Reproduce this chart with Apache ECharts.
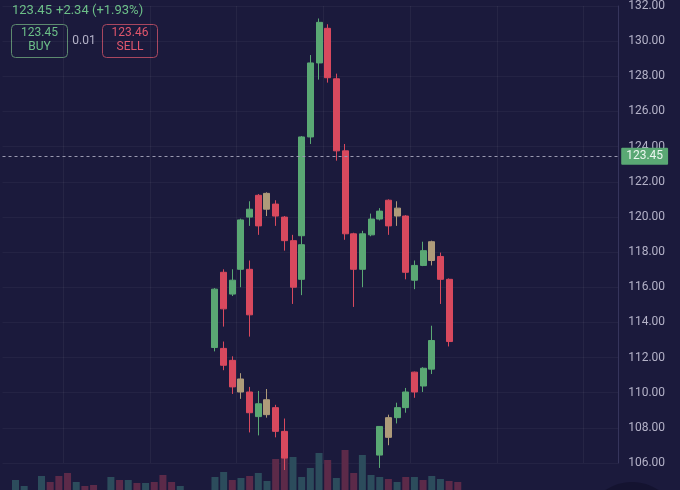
<!DOCTYPE html>
<html>
<head>
<meta charset="utf-8">
<script src="https://cdn.jsdelivr.net/npm/echarts@6/dist/echarts.min.js"></script>
<style>
html,body{margin:0;padding:0;background:#1b1a3c;}
#c{width:680px;height:490px;}
</style>
</head>
<body>
<div id="c"></div>
<script>
// ---- data ----
const categories = [1,2,3,4,5,6,7,8,9,10,11,12,13,14,15,16,17,18,19,20,21,22,23,24,25,26,27,28,29,30,
  31,32,33,34,35,36,37,38,39,40,41,42,43,44,45,46,47,48,49,50,51,52,53,54,55,56,57,58,59,60,
  61,62,63,64,65,66,67,68,69,70,71];

// [bar, open, close, low, high]
const upperCandles = [
  [25,112.57,115.89,112.35,115.95],[26,116.85,114.77,113.76,117.02],[27,115.61,116.40,115.50,117.02],
  [28,117.02,119.83,116.00,119.90],[29,119.99,120.44,119.49,120.89],[30,121.23,119.49,118.98,121.30],
  [32,120.73,120.05,119.49,120.95],[33,119.99,118.65,118.08,120.05],[34,118.65,116.00,115.05,118.98],
  [35,118.93,124.55,118.53,124.60],[36,124.55,128.76,124.15,129.21],[37,128.76,131.07,127.81,131.29],
  [38,130.73,127.92,127.64,130.96],[39,127.86,123.76,123.20,128.15],[40,123.76,119.04,118.70,124.15],
  [41,119.04,117.02,114.88,119.10],[42,117.02,119.04,116.00,119.21],[43,118.98,119.88,118.90,120.19],
  [44,119.88,120.33,119.80,120.50],[45,120.95,119.49,118.98,121.00],[47,120.05,116.85,116.45,120.10],
  [48,116.40,117.24,115.89,117.52],[49,117.24,118.08,117.20,118.59],[51,117.75,116.45,115.05,117.97],
  [52,116.45,112.91,112.63,116.50]
];
const upperMixed = [
  [31,120.44,121.34,120.05,121.40],[46,120.05,120.50,119.49,120.89],[50,118.59,117.52,117.24,118.65]
];
const overlapCandles = [
  [29,117.02,114.43,113.19,117.52],[35,116.45,118.42,115.55,118.81]
];
const lowerCandles = [
  [26,112.52,111.56,111.28,112.91],[27,111.84,110.33,109.93,112.07],[29,110.04,108.86,107.74,110.33],
  [30,108.64,109.37,107.57,110.10],[32,109.15,107.80,107.46,109.31],[33,107.80,106.28,105.60,108.53],
  [44,106.45,108.08,105.72,108.10],[46,108.58,109.15,108.25,109.43],[47,109.15,110.04,108.86,110.27],
  [48,111.17,110.04,109.71,111.20],[49,110.38,111.39,110.04,111.45],[50,111.34,112.97,111.06,113.81]
];
const lowerMixed = [
  [28,110.78,110.04,109.65,111.11],[31,109.60,108.75,108.58,110.21],[45,107.46,108.58,107.01,108.75]
];
// [bar, volume]
const volumeUp = [
  [2,10],[3,4],[5,14],[9,8],[13,13],[15,10],[17,7],[21,4],[25,13],[26,18],[28,12],[30,17],[31,9],
  [34,33],[35,13],[36,22],[37,37],[39,12],[42,35],[43,15],[44,13],[46,8],[48,13],[50,14],[51,11]
];
const volumeDown = [
  [6,8],[7,14],[8,17],[10,4],[11,5],[14,10],[16,7],[18,8],[19,15],[20,8],[27,10],[29,14],
  [32,31],[33,34],[38,30],[40,40],[41,17],[45,11],[47,13],[49,10],[52,9],[53,8]
];
const priceTicks = [106,108,110,112,114,116,118,120,122,124,126,128,130,132];
const lastPrice = 123.45, change = 2.34, changePct = 1.93;
const bidPrice = 123.45, askPrice = 123.46, spread = 0.01;

// ---- build ----
const GREEN = '#5aa874', RED = '#d8495e', TAN = '#ae9b7a';
function candleData(rows){
  const m = new Map(rows.map(r => [r[0], r.slice(1)]));
  return categories.map(c => m.get(c) || ['-','-','-','-']);
}
function volData(rows){
  const m = new Map(rows.map(r => [r[0], r[1]]));
  return categories.map(c => m.has(c) ? m.get(c) : '-');
}
const candleStyle = {color: GREEN, color0: RED, borderColor: GREEN, borderColor0: RED, borderWidth: 1};
const mixedStyle = {color: TAN, color0: TAN, borderColor: TAN, borderColor0: TAN, borderWidth: 1};
const G = {left: 2.5, width: 615.7};

const chart = echarts.init(document.getElementById('c'), null, {renderer: 'canvas'});
const font = 'Roboto';
chart.setOption({
  animation: false,
  backgroundColor: '#1b1a3c',
  grid: [
    {left: G.left, width: G.width, top: 0.4, height: 462.6},
    {left: G.left, width: G.width, bottom: 0, height: 100}
  ],
  xAxis: [
    {type: 'category', data: categories.map(String), gridIndex: 0,
     axisLine: {show: false}, axisTick: {show: false}, axisLabel: {show: false},
     splitLine: {show: true, interval: (i) => (i - 7) % 10 === 0, lineStyle: {color: 'rgba(255,255,255,0.05)'}}},
    {type: 'category', data: categories.map(String), gridIndex: 1, show: false}
  ],
  yAxis: [
    {type: 'value', position: 'right', min: priceTicks[0], max: priceTicks[priceTicks.length-1], interval: 2,
     axisLine: {show: true, lineStyle: {color: '#36355c'}}, axisTick: {show: false},
     axisLabel: {color: '#b4b2c8', fontSize: 12, fontFamily: font, margin: 10, formatter: v => v.toFixed(2)},
     splitLine: {show: true, lineStyle: {color: 'rgba(255,255,255,0.045)'}}},
    {type: 'value', gridIndex: 1, min: 0, max: 100, show: false}
  ],
  series: [
    {type: 'bar', xAxisIndex: 1, yAxisIndex: 1, data: volData(volumeUp), barWidth: 7, barGap: '-100%',
     itemStyle: {color: '#2c4c5c'}, silent: true},
    {type: 'bar', xAxisIndex: 1, yAxisIndex: 1, data: volData(volumeDown), barWidth: 7, barGap: '-100%',
     itemStyle: {color: '#5c2a49'}, silent: true},
    {type: 'candlestick', name: 'upper', clip: false, data: candleData(upperCandles), barWidth: 6.5, itemStyle: candleStyle,
     markLine: {silent: true, symbol: 'none', animation: false,
       lineStyle: {type: [3,3], color: '#9a99b0', width: 1},
       label: {show: true, position: 'end', distance: 3, formatter: () => lastPrice.toFixed(2),
         backgroundColor: GREEN, color: '#eaf6ee', padding: [3,5,2,5], fontSize: 12, fontFamily: font, borderRadius: 1},
       data: [{yAxis: lastPrice}]}},
    {type: 'candlestick', name: 'upperMixed', clip: false, data: candleData(upperMixed), barWidth: 6.5, itemStyle: mixedStyle},
    {type: 'candlestick', name: 'overlap', clip: false, data: candleData(overlapCandles), barWidth: 6.5, itemStyle: candleStyle},
    {type: 'candlestick', name: 'lower', clip: false, data: candleData(lowerCandles), barWidth: 6.5, itemStyle: candleStyle},
    {type: 'candlestick', name: 'lowerMixed', clip: false, data: candleData(lowerMixed), barWidth: 6.5, itemStyle: mixedStyle}
  ],
  graphic: [
    {type: 'text', left: 12, top: 4, style: {text: lastPrice.toFixed(2), fill: '#6cbf88', font: '13px ' + font}},
    {type: 'text', left: 56, top: 4, style: {text: '+' + change.toFixed(2) + ' (+' + changePct.toFixed(2) + '%)', fill: '#6cbf88', font: '13px ' + font}},
    {type: 'rect', shape: {x: 11.5, y: 24.5, width: 56, height: 33, r: 4}, style: {fill: 'none', stroke: '#5d8a6f', lineWidth: 1}},
    {type: 'text', x: 39.5, y: 33, style: {text: bidPrice.toFixed(2), fill: '#6cbf88', font: '12px ' + font, align: 'center', verticalAlign: 'middle'}},
    {type: 'text', x: 39.5, y: 47, style: {text: 'BUY', fill: '#6cbf88', font: '12px ' + font, align: 'center', verticalAlign: 'middle'}},
    {type: 'text', x: 84, y: 41, style: {text: spread.toFixed(2), fill: '#b4b2c8', font: '12px ' + font, align: 'center', verticalAlign: 'middle'}},
    {type: 'rect', shape: {x: 102.5, y: 24.5, width: 55, height: 33, r: 4}, style: {fill: 'none', stroke: '#a9475f', lineWidth: 1}},
    {type: 'text', x: 130, y: 33, style: {text: askPrice.toFixed(2), fill: '#e0566c', font: '12px ' + font, align: 'center', verticalAlign: 'middle'}},
    {type: 'text', x: 130, y: 47, style: {text: 'SELL', fill: '#e0566c', font: '12px ' + font, align: 'center', verticalAlign: 'middle'}},
    {type: 'circle', shape: {cx: 632, cy: 530, r: 48}, style: {fill: '#141330'}}
  ]
});
</script>
</body>
</html>
